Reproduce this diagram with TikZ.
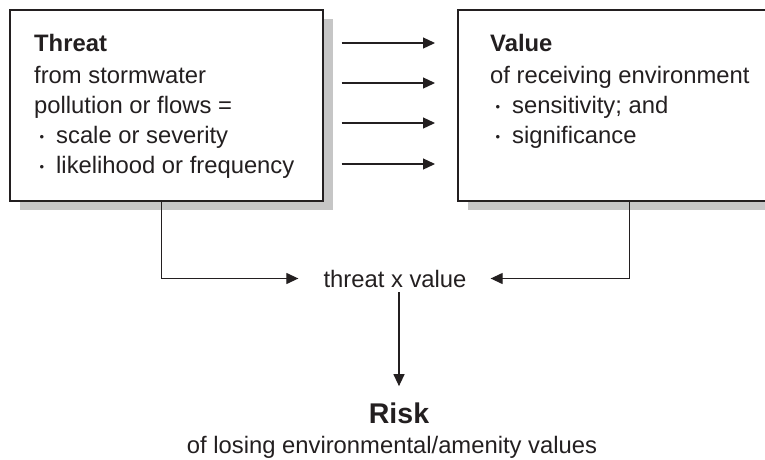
\documentclass[tikz,border=0pt]{standalone}
\usepackage{fontspec}
\setmainfont{Liberation Sans}
\usetikzlibrary{arrows.meta,shadows}
\definecolor{ink}{HTML}{231F20}
\definecolor{shade}{HTML}{C6C6C6}
\newcommand{\bul}{\makebox[22pt][l]{\hspace{5.5pt}\raisebox{2pt}{\fontsize{13}{13}\selectfont\textbullet}}}
\begin{document}
\begin{tikzpicture}[x=1pt,y=-1pt,
	box/.style={shape=rectangle,draw=ink,line width=1.5pt,fill=white,anchor=north west,
		minimum height=191pt,drop shadow={shadow xshift=10pt,shadow yshift=-9pt,fill=shade,opacity=1}},
	txt/.style={inner sep=0pt,text=ink,align=left,anchor=north west,font={\fontsize{23.8}{30}\selectfont}},
	flow/.style={draw=ink,line width=1.2pt,-{Triangle[length=12pt,width=11pt]}}]

	\useasboundingbox (0,0) rectangle (765,459);
	\clip (0,0) rectangle (765,459);

	\node[box,minimum width=313pt] (threatbox) at (9,9) {};
	\node[box,minimum width=344pt] (valuebox) at (457,9) {};

	\node[txt] (threat) at ([xshift=25pt,yshift=-25pt]threatbox.north west)
		{\textbf{Threat}\\[2pt] from stormwater\\ pollution or flows =\\ \bul scale or severity\\ \bul likelihood or frequency};
	\node[txt] (value) at ([xshift=33pt,yshift=-25pt]valuebox.north west)
		{\textbf{Value}\\[2pt] of receiving environment\\ \bul sensitivity; and\\ \bul significance};

	\node[txt,anchor=base] (prod) at (395,287) {threat x value};
	\node[txt,anchor=base,font={\fontsize{28.5}{30}\selectfont\bfseries}] (risk) at (399,423) {Risk};
	\node[txt,anchor=base] (riskdesc) at (392,453) {of losing environmental/amenity values};

	\foreach \y in {43,83,123,164}
		\draw[flow,shorten <=18pt,shorten >=22pt] (threatbox.east |- 0,\y) -- (valuebox.west |- 0,\y);

	\draw[flow,shorten >=25pt] ([xshift=-4.5pt]threatbox.south) |- (prod.west);
	\draw[flow,shorten >=24pt] (valuebox.south) |- (prod.east);
	\draw[flow,shorten <=5pt,shorten >=16pt] (prod.south -| risk.north) -- (risk.north);
\end{tikzpicture}
\end{document}
